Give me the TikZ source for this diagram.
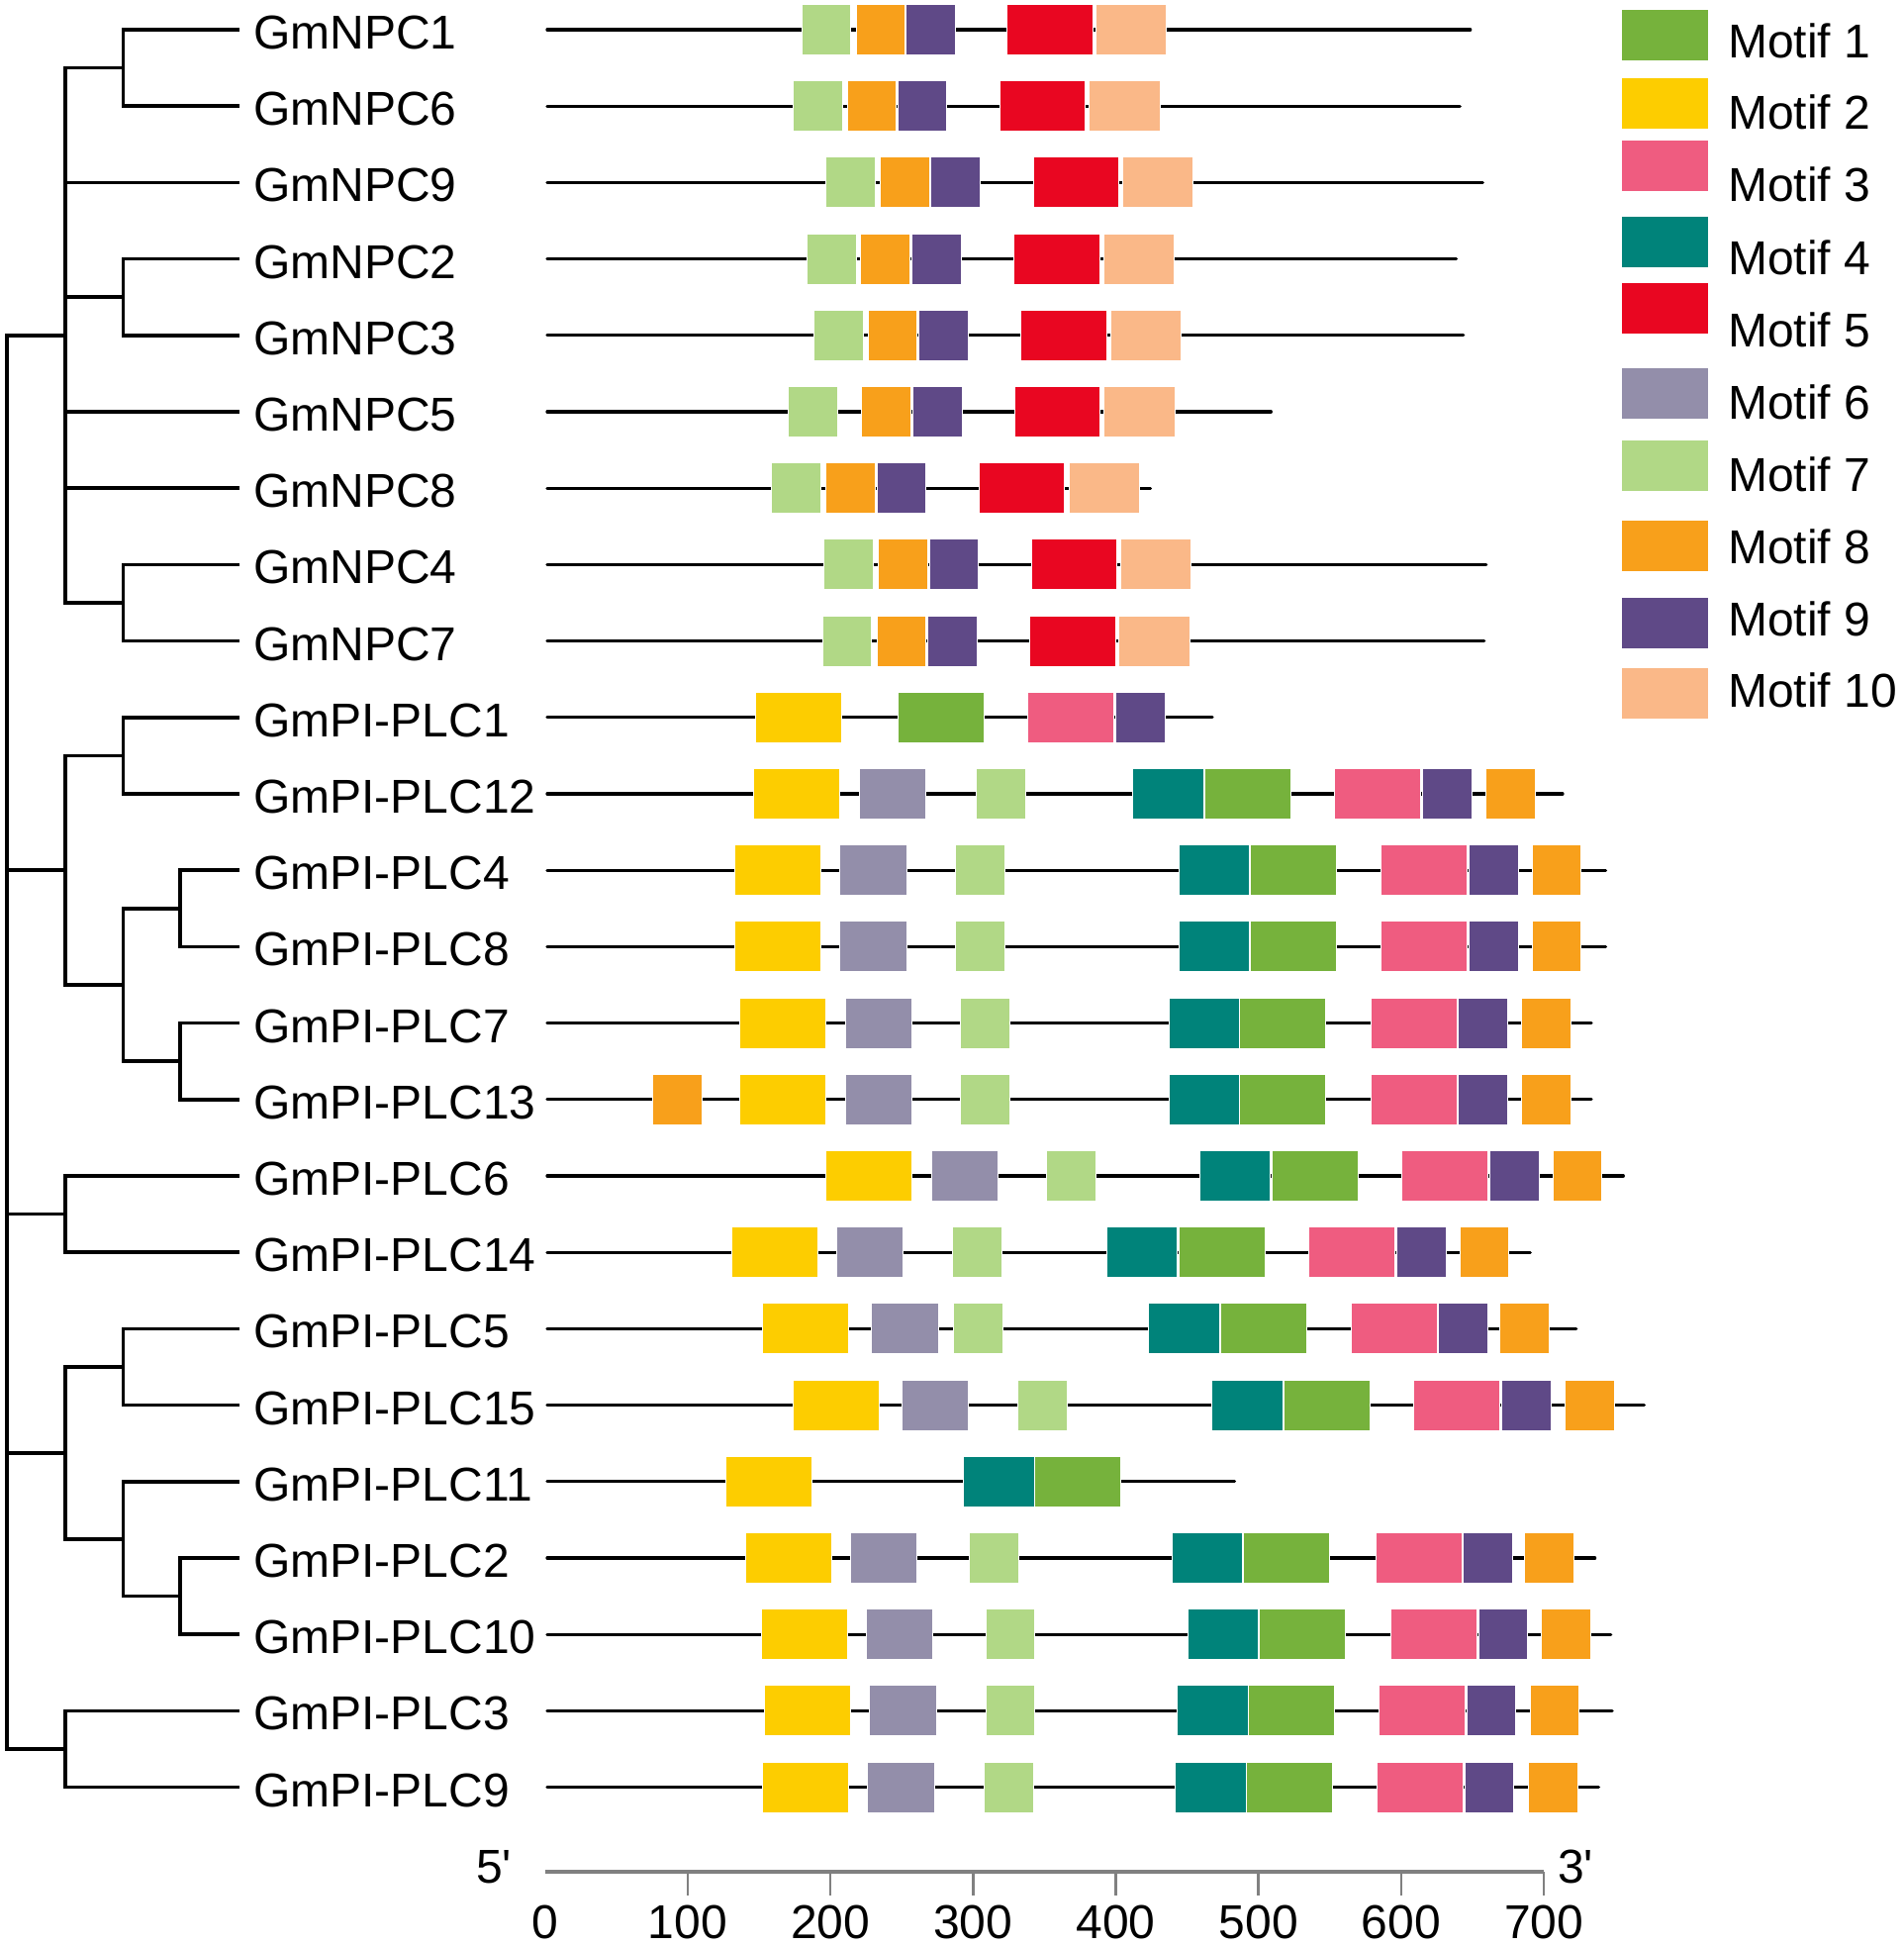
\documentclass[tikz,border=0pt]{standalone}
\usepackage{fontspec}
\newfontfamily\af{Liberation Sans}
\definecolor{mc1}{HTML}{76B23C}
\definecolor{mc2}{HTML}{FDCD00}
\definecolor{mc3}{HTML}{EF5C80}
\definecolor{mc4}{HTML}{00837A}
\definecolor{mc5}{HTML}{E90621}
\definecolor{mc6}{HTML}{938EAA}
\definecolor{mc7}{HTML}{B1D886}
\definecolor{mc8}{HTML}{F8A01B}
\definecolor{mc9}{HTML}{5F4987}
\definecolor{mc10}{HTML}{FAB888}
\definecolor{axgray}{HTML}{808080}
\expandafter\def\csname mw1\endcsname{87}
\expandafter\def\csname mw2\endcsname{87}
\expandafter\def\csname mw3\endcsname{87}
\expandafter\def\csname mw4\endcsname{71.6}
\expandafter\def\csname mw5\endcsname{86.6}
\expandafter\def\csname mw6\endcsname{67.3}
\expandafter\def\csname mw7\endcsname{49.8}
\expandafter\def\csname mw8\endcsname{49.8}
\expandafter\def\csname mw9\endcsname{49.8}
\expandafter\def\csname mw10\endcsname{71.4}
\tikzset{
  treeline/.style={line width=3.6pt, line join=miter},
  prot/.style={line width=3.3pt, line cap=round},
  mot/.style={draw=white, line width=1pt},
  lbl/.style={inner sep=0pt, font=\af\fontsize{48}{58}\selectfont},
  axisline/.style={draw=axgray, line width=4pt},
  axtick/.style={draw=axgray, line width=2.5pt},
}
\begin{document}
\begin{tikzpicture}[x=1pt,y=-1pt]
\useasboundingbox (0,0) rectangle (1924,1966);

% protein lines and labels
\foreach \r/\nm/\e in {0/GmNPC1/1485.7,1/GmNPC6/1475.2,2/GmNPC9/1498.3,3/GmNPC2/1471.6,4/GmNPC3/1478.7,5/GmNPC5/1284.3,6/GmNPC8/1162.5,7/GmNPC4/1501.8,8/GmNPC7/1499.7,9/GmPI-PLC1/1225,10/GmPI-PLC12/1579,11/GmPI-PLC4/1622.5,12/GmPI-PLC8/1622.5,13/GmPI-PLC7/1608,14/GmPI-PLC13/1608,15/GmPI-PLC6/1640.3,16/GmPI-PLC14/1546.3,17/GmPI-PLC5/1592.7,18/GmPI-PLC15/1661.4,19/GmPI-PLC11/1247.5,20/GmPI-PLC2/1611.6,21/GmPI-PLC10/1627.7,22/GmPI-PLC3/1629.1,23/GmPI-PLC9/1615.4}{
  \pgfmathsetmacro\yy{30+77.2*\r}
  \coordinate (s\r) at (553,\yy);
  \coordinate (e\r) at (\e,\yy);
  \coordinate (t\r) at (241.7,\yy);
  \draw[prot] (s\r) -- (e\r);
  \node[lbl, anchor=base west] (L\r) at (256,\yy+19.5) {\nm};
}

% motif boxes
\foreach \r/\m/\x in {
0/7/810.1,0/8/865.0,0/9/915.9,0/5/1017.7,0/10/1107.4,
1/7/801.2,1/8/856.1,1/9/907.0,1/5/1010.1,1/10/1100.7,
2/7/834.6,2/8/889.6,2/9/940.9,2/5/1044.0,2/10/1134.2,
3/7/815.4,3/8/869.9,3/9/921.7,3/5/1024.4,3/10/1115.0,
4/7/822.6,4/8/877.1,4/9/928.4,4/5/1031.5,4/10/1122.1,
5/7/796.3,5/8/870.8,5/9/922.6,5/5/1025.3,5/10/1115.9,
6/7/779.7,6/8/834.6,6/9/886.0,6/5/989.1,6/10/1080.2,
7/7/832.9,7/8/887.9,7/9/939.1,7/5/1042.2,7/10/1132.4,
8/7/831.1,8/8/886.0,8/9/937.3,8/5/1040.4,8/10/1130.6,
9/2/763.8,9/1/907.6,9/3/1038.8,9/9/1127.2,
10/2/761.7,10/6/868.3,10/7/986.9,10/4/1144.7,10/1/1217.7,10/3/1348.8,10/9/1437.2,10/8/1501.8,
11/2/742.7,11/6/848.7,11/7/965.8,11/4/1191,11/1/1263.2,11/3/1395.1,11/9/1484.2,11/8/1548.1,
12/2/742.7,12/6/848.7,12/7/965.8,12/4/1191,12/1/1263.2,12/3/1395.1,12/9/1484.2,12/8/1548.1,
13/2/747.6,13/6/854.3,13/7/970.7,13/4/1181.2,13/1/1252.7,13/3/1385.3,13/9/1473.7,13/8/1537.5,
14/8/659.3,14/2/747.6,14/6/854.3,14/7/970.7,14/4/1181.2,14/1/1252.7,14/3/1385.3,14/9/1473.7,14/8/1537.5,
15/2/834.6,15/6/941.3,15/7/1057.7,15/4/1212,15/1/1285,15/3/1416.9,15/9/1505.3,15/8/1569.1,
16/2/739.2,16/6/845.2,16/7/962.3,16/4/1118,16/1/1191,16/3/1322.9,16/9/1411.3,16/8/1475.1,
17/2/770.8,17/6/880.9,17/7/963.7,17/4/1160.8,17/1/1233.1,17/3/1365,17/9/1453.4,17/8/1515.8,
18/2/801,18/6/911.1,18/7/1028.2,18/4/1224.7,18/1/1297.6,18/3/1428.8,18/9/1517.2,18/8/1581.7,
19/2/733.6,19/4/973.5,19/1/1045.1,
20/2/753.3,20/6/859.2,20/7/979.8,20/4/1184,20/1/1256.2,20/3/1390.2,20/9/1478.6,20/8/1540.4,
21/2/769.4,21/6/875.3,21/7/996,21/4/1200.1,21/1/1272.4,21/3/1405.7,21/9/1494.1,21/8/1557.2,
22/2/772.2,22/6/878.8,22/7/996,22/4/1189.6,22/1/1261.9,22/3/1393.7,22/9/1482.1,22/8/1546,
23/2/770.8,23/6/876.7,23/7/994.6,23/4/1187.5,23/1/1259.8,23/3/1391.6,23/9/1480,23/8/1544.6}{
  \pgfmathsetmacro\yy{30+77.2*\r}
  \edef\ww{\csname mw\m\endcsname}
  \path[mot, fill=mc\m] (\x,\yy-25.5) rectangle ++(\ww,51);
}

% tree internal nodes
\coordinate (root) at (6.7,1052.9);
\coordinate (N) at (65.7,338.8);
\coordinate (a) at (124.3,68.6);
\coordinate (b) at (124.3,300.2);
\coordinate (c) at (124.3,609);
\coordinate (h) at (65.7,879.2);
\coordinate (d) at (124.3,763.4);
\coordinate (g) at (124.3,995);
\coordinate (e) at (182,917.8);
\coordinate (f) at (182,1072.2);
\coordinate (i) at (65.7,1226.6);
\coordinate (m) at (65.7,1467.9);
\coordinate (j) at (124.3,1381);
\coordinate (l) at (124.3,1554.7);
\coordinate (k) at (182,1612.6);
\coordinate (n) at (65.7,1767);

\draw[treeline] (root) |- (N) (root) |- (h) (root) |- (i) (root) |- (m) (root) |- (n);
\draw[treeline] (N) |- (a) (N) |- (t2) (N) |- (b) (N) |- (t5) (N) |- (t6) (N) |- (c);
\draw[treeline] (a) |- (t0) (a) |- (t1) (b) |- (t3) (b) |- (t4) (c) |- (t7) (c) |- (t8);
\draw[treeline] (h) |- (d) (h) |- (g) (d) |- (t9) (d) |- (t10) (g) |- (e) (g) |- (f);
\draw[treeline] (e) |- (t11) (e) |- (t12) (f) |- (t13) (f) |- (t14);
\draw[treeline] (i) |- (t15) (i) |- (t16);
\draw[treeline] (m) |- (j) (m) |- (l) (j) |- (t17) (j) |- (t18) (l) |- (t19) (l) |- (k) (k) |- (t20) (k) |- (t21);
\draw[treeline] (n) |- (t22) (n) |- (t23);

% legend
\foreach \q/\top/\base in {1/10/58.8,2/78.5/130.7,3/141.5/203.9,4/219/277.4,5/286.3/350.8,6/372.1/423.1,7/444.7/496.4,8/526.4/569.8,9/603.5/642.4,10/675.4/714.5}{
  \path[fill=mc\q] (1638.6,\top) rectangle ++(87.8,51);
  \node[lbl, anchor=base west] (leg\q) at (1746,\base) {Motif \q};
}

% axis
\coordinate (ax0) at (550.7,1891);
\coordinate (ax7) at (1560.1,1891);
\draw[axisline] (ax0) -- (ax7);
\foreach \k/\t in {0/0,1/100,2/200,3/300,4/400,5/500,6/600,7/700}{
  \coordinate (tk\k) at (550.7+144.2*\k,1891);
  \ifnum\k>0 \draw[axtick] (tk\k) -- ++(0,24); \fi
  \node[lbl, anchor=base] (num\k) at (550.7+144.2*\k,1958.5) {\t};
}
\node[lbl, anchor=base west] (five) at (481,1902) {5'};
\node[lbl, anchor=base west] (three) at (1574,1902) {3'};
\end{tikzpicture}
\end{document}
